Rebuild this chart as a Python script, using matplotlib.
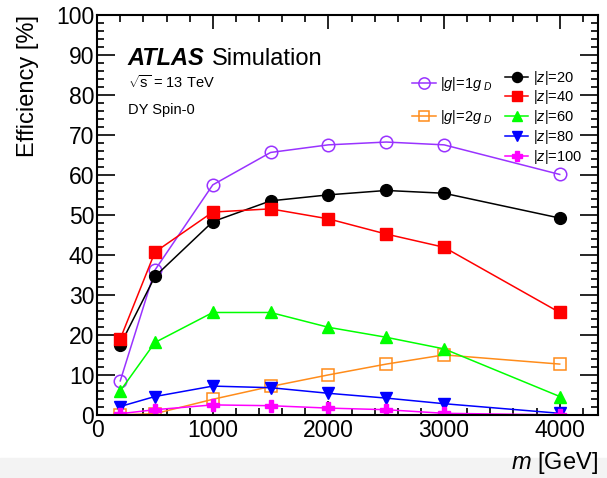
import matplotlib
matplotlib.use('Agg')
import matplotlib.pyplot as plt
from matplotlib.ticker import MultipleLocator
from matplotlib.patches import Rectangle

plt.rcParams['font.family'] = ['Liberation Sans', 'DejaVu Sans']
plt.rcParams['mathtext.fontset'] = 'custom'
plt.rcParams['mathtext.rm'] = 'Liberation Sans'
plt.rcParams['mathtext.it'] = 'Liberation Sans:italic'

mass = [200, 500, 1000, 1500, 2000, 2500, 3000, 4000]

g1 = [8.5, 36.2, 57.5, 65.6, 67.5, 68.2, 67.5, 60.1]
g2 = [0.0, 0.3, 3.9, 7.1, 10.0, 12.7, 15.0, 12.7]
z20 = [17.5, 34.6, 48.3, 53.5, 55.0, 56.1, 55.4, 49.2]
z40 = [19.0, 40.7, 50.7, 51.5, 49.0, 45.2, 41.9, 25.6]
z60 = [6.0, 18.1, 25.6, 25.6, 21.9, 19.4, 16.5, 4.6]
z80 = [2.1, 4.6, 7.2, 6.8, 5.4, 4.2, 2.8, 0.4]
z100 = [0.3, 1.3, 2.5, 2.3, 1.7, 1.3, 0.4, 0.0]

g_labels = [r'$|g|$=1$g_{\ D}$', r'$|g|$=2$g_{\ D}$']
z_labels = [r'$|z|$=20', r'$|z|$=40', r'$|z|$=60', r'$|z|$=80', r'$|z|$=100']

fig = plt.figure(figsize=(6.07, 4.78), dpi=100)
fig.patches.append(Rectangle((0, 0), 1, 0.042, transform=fig.transFigure,
                             color='#f3f3f3', zorder=-10))
ax = fig.add_axes([0.160, 0.132, 0.825, 0.837])

g_lines = []
g_lines.append(ax.plot(mass, g1, color='#9933ff', lw=1.1, marker='o', ms=9,
                       mfc='none', mec='#9933ff', mew=1.1)[0])
g_lines.append(ax.plot(mass, g2, color='#ff8c1a', lw=1.1, marker='s', ms=8.5,
                       mfc='none', mec='#ff8c1a', mew=1.1)[0])

z_lines = []
z_lines.append(ax.plot(mass, z20, color='black', lw=1.1, marker='o', ms=8.5)[0])
z_lines.append(ax.plot(mass, z40, color='#ff0000', lw=1.1, marker='s', ms=8)[0])
z_lines.append(ax.plot(mass, z60, color='#00ff00', lw=1.1, marker='^', ms=8.5)[0])
z_lines.append(ax.plot(mass, z80, color='#0000ff', lw=1.1, marker='v', ms=8.5)[0])
z_lines.append(ax.plot(mass, z100, color='#ff00ff', lw=1.1, marker='P', ms=9)[0])

ax.set_xlim(0, 4330)
ax.set_ylim(0, 100)
ax.xaxis.set_major_locator(MultipleLocator(1000))
ax.xaxis.set_minor_locator(MultipleLocator(200))
ax.yaxis.set_major_locator(MultipleLocator(10))
ax.yaxis.set_minor_locator(MultipleLocator(2))
ax.tick_params(which='both', direction='in', top=True, right=True, width=1.2,
               labelsize=16.5)
ax.tick_params(which='major', length=10)
ax.tick_params(which='minor', length=5)
ax.tick_params(axis='y', which='major', length=13, pad=2)
ax.tick_params(axis='x', pad=3)
for sp in ax.spines.values():
    sp.set_linewidth(1.5)

ax.set_ylabel('Efficiency [%]', fontsize=17, loc='top', labelpad=12)
ax.set_xlabel(r'$m$ [GeV]', fontsize=17, loc='right', labelpad=6)

ax.text(0.060, 0.875, 'ATLAS', transform=ax.transAxes, fontsize=17,
        fontweight='bold', fontstyle='italic')
ax.text(0.230, 0.875, 'Simulation', transform=ax.transAxes, fontsize=17)
ax.text(0.062, 0.818, r'$\sqrt{\mathrm{s}}$ = 13 TeV', transform=ax.transAxes, fontsize=10.5)
ax.text(0.062, 0.752, 'DY Spin-0', transform=ax.transAxes, fontsize=10.5)

leg1 = ax.legend(g_lines, g_labels, loc='upper left', bbox_to_anchor=(0.618, 0.865),
                 frameon=False, fontsize=10.5, handlelength=1.6, handletextpad=0.3,
                 labelspacing=1.05, borderaxespad=0, markerscale=0.9)
ax.add_artist(leg1)
ax.legend(z_lines, z_labels, loc='upper left', bbox_to_anchor=(0.803, 0.88),
          frameon=False, fontsize=10.5, handlelength=1.6, handletextpad=0.3,
          labelspacing=0.12, borderaxespad=0, markerscale=0.85)

fig.savefig('out.png', dpi=100)
